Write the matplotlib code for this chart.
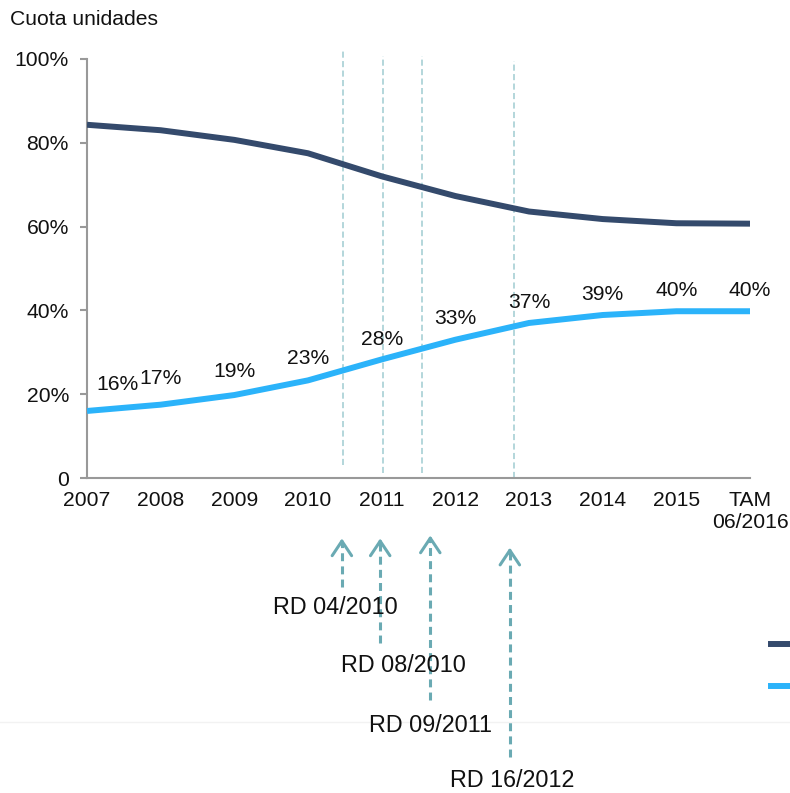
import matplotlib
matplotlib.use("Agg")
import matplotlib.pyplot as plt
from matplotlib.lines import Line2D

plt.rcParams['font.family'] = ['Liberation Sans', 'DejaVu Sans']

# ---- data ----
categories = ["2007", "2008", "2009", "2010", "2011", "2012", "2013", "2014", "2015", "TAM\n06/2016"]
dark_share = [84.3, 83.0, 80.7, 77.5, 72.0, 67.3, 63.6, 61.8, 60.8, 60.7]
light_share = [16.0, 17.5, 19.8, 23.3, 28.3, 33.0, 37.0, 38.9, 39.8, 39.8]
light_labels = ["16%", "17%", "19%", "23%", "28%", "33%", "37%", "39%", "40%", "40%"]
y_ticks = [0, 20, 40, 60, 80, 100]
y_tick_labels = ["0", "20%", "40%", "60%", "80%", "100%"]
regulations = ["RD 04/2010", "RD 08/2010", "RD 09/2011", "RD 16/2012"]

# ---- styling / positions ----
DARK = "#344A6C"
LIGHT = "#2BB3FA"
VLINE = "#9FCBD1"
ARROW = "#6AAAB3"
GRAY = "#999999"
FS = 15.2
FS_RD = 16.8

# vertical dashed guide lines (x in category units, y span in %)
vline_x = [3.47, 4.02, 4.55, 5.80]
vline_top = [102.5, 100.6, 100.6, 99.6]
vline_bottom = [3.0, 1.1, 1.1, 0.1]
# arrows below the axis (x in category units, head/tail/label y in %)
arrow_x = [3.46, 3.98, 4.66, 5.74]
arrow_head = [-14.4, -14.4, -13.7, -16.6]
arrow_tail = [-26.1, -39.3, -53.1, -66.7]
label_x = [3.37, 4.30, 4.66, 5.77]
label_y = [-31.0, -44.7, -59.1, -72.2]
# data label offsets (points)
lab_off = [(22, 19), (0, 19), (0, 17), (0, 16), (0, 14), (0, 15), (0, 15), (0, 15), (0, 15), (0, 15)]

fig = plt.figure(figsize=(7.9, 7.93), dpi=100)
ax = fig.add_axes([87 / 790, 1 - 478 / 793, (750 - 87) / 790, (478 - 59) / 793])

x = list(range(len(categories)))
ax.plot(x, dark_share, color=DARK, lw=4.3, solid_joinstyle='round', solid_capstyle='butt', zorder=3)
ax.plot(x, light_share, color=LIGHT, lw=4.3, solid_joinstyle='round', solid_capstyle='butt', zorder=3)

for xi, yi, lab, off in zip(x, light_share, light_labels, lab_off):
    ax.annotate(lab, (xi, yi), xytext=off, textcoords='offset points',
                ha='center', va='center', fontsize=FS, color='#111111', zorder=4)

for vx, vt, vb in zip(vline_x, vline_top, vline_bottom):
    ax.plot([vx, vx], [vb, vt], color=VLINE, lw=1.1, dashes=(4, 2.2), clip_on=False, zorder=2)

for ax_x, h, t, lx, ly, txt in zip(arrow_x, arrow_head, arrow_tail, label_x, label_y, regulations):
    ax.plot([ax_x, ax_x], [t, h - 1.0], color=ARROW, lw=2.2, dashes=(2.6, 1.7), clip_on=False)
    ax.annotate("", xy=(ax_x, h), xytext=(ax_x, h - 1.5),
                arrowprops=dict(arrowstyle='->,head_length=1.05,head_width=0.7',
                                color=ARROW, lw=2.2, shrinkA=0, shrinkB=0),
                annotation_clip=False)
    ax.text(lx, ly, txt, ha='center', va='center', fontsize=FS_RD, color='#111111', clip_on=False)

ax.set_xlim(0, len(categories) - 1)
ax.set_ylim(0, 100)
ax.set_xticks(x)
ax.set_xticklabels(categories, fontsize=FS, linespacing=1.2)
ax.set_yticks(y_ticks)
ax.set_yticklabels(y_tick_labels, fontsize=FS)
ax.tick_params(axis='x', length=0, pad=9, colors='#111111')
ax.tick_params(axis='y', length=5, width=1.5, color=GRAY, pad=8, labelcolor='#111111')
for s in ['top', 'right']:
    ax.spines[s].set_visible(False)
for s in ['left', 'bottom']:
    ax.spines[s].set_color(GRAY)
    ax.spines[s].set_linewidth(1.5)

fig.text(10 / 790, 1 - 25 / 793, "Cuota unidades", fontsize=FS, va='baseline', ha='left', color='#111111')

# cut-off legend markers at right edge
fig.add_artist(Line2D([771 / 790, 1.0], [1 - 644 / 793] * 2, color=DARK, lw=4.3, transform=fig.transFigure))
fig.add_artist(Line2D([771 / 790, 1.0], [1 - 686 / 793] * 2, color=LIGHT, lw=4.3, transform=fig.transFigure))
# faint separator line (behind the axes content)
fig.add_artist(Line2D([0, 1.0], [1 - 722 / 793] * 2, color="#F2F2F2", lw=1.0,
                      transform=fig.transFigure, zorder=-5))

fig.savefig("out.png", dpi=100, facecolor='white')
